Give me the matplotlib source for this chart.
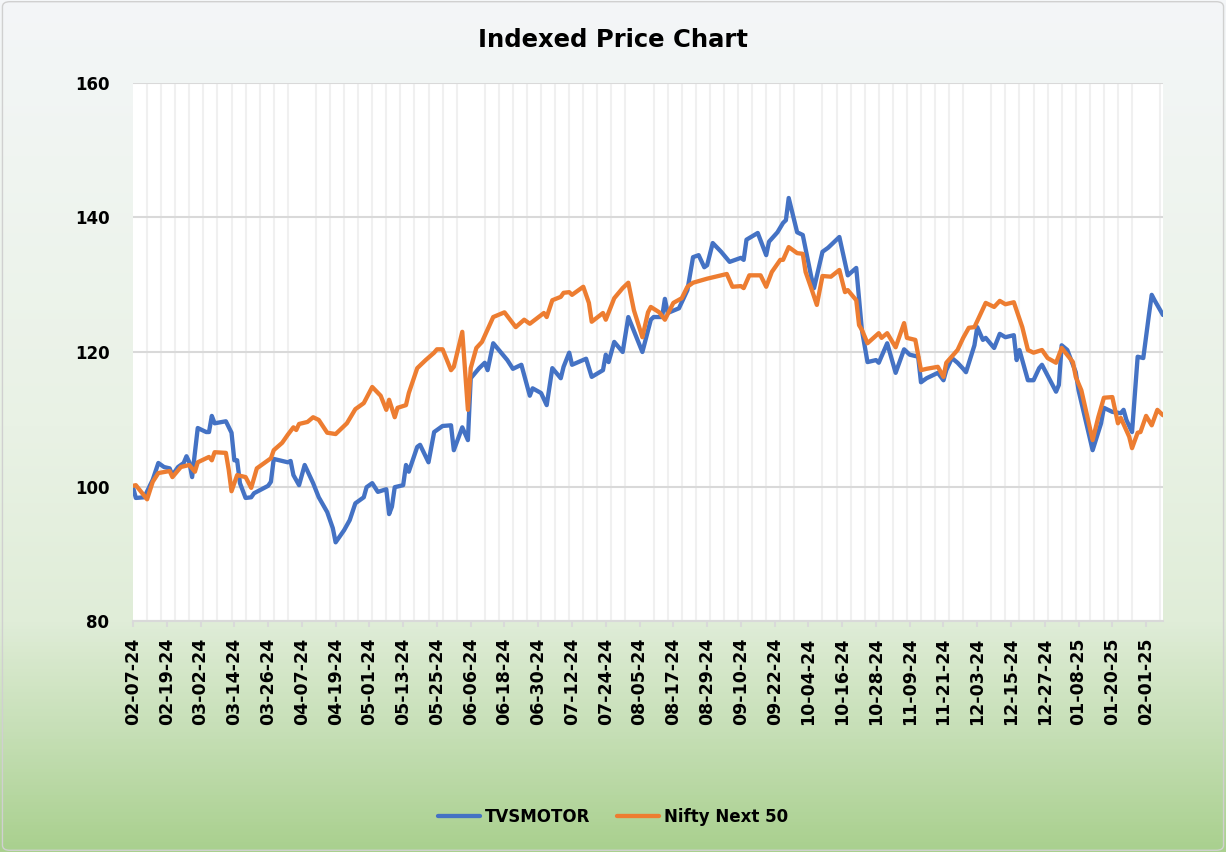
import numpy as np
import pandas as pd
import matplotlib
matplotlib.use("Agg")
import matplotlib.pyplot as plt
import matplotlib.dates as mdates
from matplotlib.colors import LinearSegmentedColormap
from matplotlib.patches import FancyBboxPatch

# Start date of the series (indexed to 100)
start = pd.Timestamp("2024-02-07")
end = pd.Timestamp("2025-02-07")

# TVSMOTOR - days since start and indexed price
tvs_days = [0, 1, 4, 7, 9, 11, 13, 14, 16, 18, 19, 20, 21, 23, 26, 27, 28, 29, 33, 35,
            36, 37, 38, 40, 42, 43, 48, 49, 50, 55, 56, 57, 59, 61, 63, 64, 66, 69, 71, 72,
            75, 77, 79, 82, 83, 85, 87, 90, 91, 92, 93, 96, 97, 98, 101, 102, 105, 107, 110, 113,
            114, 117, 119, 120, 123, 125, 126, 128, 130, 133, 135, 138, 141, 142, 145, 147, 149, 152, 153, 155,
            156, 161, 163, 167, 168, 169, 171, 174, 176, 181, 184, 185, 188, 189, 190, 194, 197, 199, 201, 203,
            204, 206, 209, 212, 216, 217, 218, 222, 225, 226, 229, 231, 232, 233, 236, 238, 241, 242, 245, 247,
            248, 251, 254, 257, 259, 261, 264, 265, 268, 271, 274, 276, 279, 280, 282, 286, 288, 289, 291, 293,
            295, 296, 299, 300, 302, 303, 306, 308, 310, 313, 314, 315, 318, 320, 322, 323, 328, 329, 330, 332,
            335, 336, 341, 344, 345, 348, 351, 352, 353, 355, 357, 359, 361, 362, 363, 366]
tvs_vals = [99.9, 98.3, 98.4, 101.0, 103.5, 102.9, 102.7, 101.7, 102.9, 103.5, 104.5, 103.6, 101.4, 108.7, 108.1, 108.1, 110.5, 109.4, 109.7, 108.0,
            103.9, 103.9, 100.5, 98.3, 98.4, 99.0, 100.1, 100.7, 104.1, 103.6, 103.8, 101.7, 100.2, 103.2, 101.4, 100.5, 98.4, 96.2, 93.8, 91.7,
            93.5, 95.0, 97.5, 98.4, 99.9, 100.5, 99.2, 99.6, 95.9, 97.0, 99.9, 100.2, 103.2, 102.2, 105.9, 106.2, 103.6, 108.1, 109.0, 109.1,
            105.4, 108.8, 106.9, 116.1, 117.6, 118.4, 117.3, 121.3, 120.3, 118.8, 117.5, 118.1, 113.5, 114.6, 113.9, 112.1, 117.6, 116.1, 117.8, 119.9,
            118.1, 119.0, 116.3, 117.3, 119.6, 118.5, 121.5, 120.0, 125.2, 120.0, 124.8, 125.2, 125.2, 127.9, 125.8, 126.5, 129.2, 134.1, 134.4, 132.6,
            132.9, 136.2, 134.9, 133.4, 134.0, 133.7, 136.7, 137.7, 134.4, 136.4, 137.8, 139.2, 139.6, 142.9, 137.8, 137.4, 131.2, 129.5, 134.9, 135.5,
            135.9, 137.1, 131.4, 132.5, 123.3, 118.5, 118.8, 118.4, 121.3, 116.9, 120.4, 119.6, 119.3, 115.5, 116.1, 116.9, 115.8, 117.3, 119.1, 118.4,
            117.5, 117.0, 121.0, 123.7, 121.8, 122.1, 120.6, 122.7, 122.2, 122.5, 118.8, 120.3, 115.8, 115.8, 117.6, 118.1, 114.1, 115.1, 121.0, 120.3,
            117.0, 114.3, 105.4, 109.4, 111.7, 111.1, 110.9, 111.4, 109.9, 108.1, 119.3, 119.1, 125.5, 128.5, 127.7, 125.5]

# Nifty Next 50
nn50_days = [0, 1, 5, 7, 9, 13, 14, 17, 20, 22, 23, 27, 28, 29, 33, 34, 35, 37, 40, 42,
             44, 49, 50, 53, 55, 57, 58, 59, 62, 64, 66, 69, 72, 76, 79, 82, 85, 88, 90, 91,
             93, 94, 97, 98, 101, 104, 107, 108, 110, 113, 114, 117, 119, 120, 122, 124, 128, 132, 134, 136,
             139, 141, 146, 147, 149, 152, 153, 155, 156, 160, 162, 163, 167, 168, 171, 174, 176, 178, 181, 183,
             184, 187, 189, 192, 195, 197, 199, 204, 209, 211, 213, 216, 217, 219, 223, 225, 227, 230, 231, 233,
             236, 238, 239, 241, 243, 245, 248, 251, 253, 254, 257, 258, 259, 261, 265, 266, 268, 271, 274, 275,
             278, 280, 282, 286, 288, 289, 293, 295, 297, 299, 301, 303, 306, 308, 310, 313, 316, 318, 320, 323,
             325, 328, 330, 334, 335, 337, 341, 343, 345, 348, 350, 351, 354, 355, 357, 358, 360, 362, 364, 366]
nn50_vals = [100.1, 100.2, 98.1, 100.7, 102.0, 102.3, 101.4, 102.9, 103.2, 102.2, 103.6, 104.4, 103.9, 105.1, 105.0, 102.5, 99.3, 101.7, 101.4, 99.8,
             102.7, 104.2, 105.4, 106.5, 107.7, 108.8, 108.4, 109.3, 109.6, 110.3, 109.9, 108.0, 107.8, 109.4, 111.5, 112.4, 114.8, 113.5, 111.4, 112.9,
             110.3, 111.7, 112.1, 113.9, 117.6, 118.8, 119.9, 120.4, 120.4, 117.3, 117.8, 123.0, 111.4, 117.6, 120.6, 121.5, 125.2, 125.9, 124.8, 123.7,
             124.8, 124.2, 125.8, 125.2, 127.7, 128.2, 128.8, 128.9, 128.5, 129.7, 127.3, 124.5, 125.8, 124.8, 128.0, 129.5, 130.3, 126.2, 122.2, 125.9,
             126.7, 125.9, 124.8, 127.3, 128.0, 129.7, 130.3, 130.9, 131.4, 131.6, 129.7, 129.8, 129.5, 131.4, 131.4, 129.7, 131.9, 133.7, 133.7, 135.6,
             134.7, 134.6, 131.9, 129.5, 127.0, 131.3, 131.2, 132.2, 128.9, 129.2, 127.7, 124.0, 123.3, 121.3, 122.8, 122.1, 122.8, 120.7, 124.3, 122.1,
             121.8, 117.3, 117.5, 117.8, 116.3, 118.4, 120.3, 122.1, 123.6, 123.7, 125.5, 127.3, 126.7, 127.6, 127.1, 127.4, 123.7, 120.3, 119.9, 120.3,
             119.1, 118.4, 120.6, 118.5, 116.3, 114.3, 106.9, 110.3, 113.2, 113.3, 109.4, 110.2, 107.4, 105.7, 108.0, 108.1, 110.5, 109.1, 111.4, 110.6]

y_ticks = [80, 100, 120, 140, 160]

tvs_dates = start + pd.to_timedelta(tvs_days, unit="D")
nn50_dates = start + pd.to_timedelta(nn50_days, unit="D")

plt.rcParams['font.family'] = ['DejaVu Sans']
plt.rcParams['font.weight'] = 'bold'

fig = plt.figure(figsize=(12.26, 8.52), dpi=100)

# Hintergrund mit Verlauf (weiss -> gruen)
bg = fig.add_axes([0, 0, 1, 1], zorder=-10)
grad_cmap = LinearSegmentedColormap.from_list("bg", [
    (0.0, (244/255, 246/255, 248/255)),
    (0.5, (233/255, 242/255, 229/255)),
    (0.73, (224/255, 237/255, 216/255)),
    (0.86, (198/255, 223/255, 182/255)),
    (1.0, (169/255, 208/255, 142/255)),
])
bg.imshow(np.linspace(0, 1, 256).reshape(-1, 1), aspect="auto", cmap=grad_cmap,
          extent=[0, 1, 0, 1], origin="upper")
bg.set_axis_off()
bg.add_patch(FancyBboxPatch((0.002, 0.002), 0.996, 0.996, boxstyle="round,pad=0,rounding_size=0.006",
                            transform=bg.transAxes, fill=False, edgecolor="#d0d0d0", linewidth=1.0))

ax = fig.add_axes([0.1085, 0.2711, 0.8401, 0.6315])
ax.set_facecolor("white")

ax.plot(tvs_dates, tvs_vals, color="#4472C4", linewidth=3.1, label="TVSMOTOR",
        solid_joinstyle="round", solid_capstyle="round", zorder=3)
ax.plot(nn50_dates, nn50_vals, color="#ED7D31", linewidth=3.1, label="Nifty Next 50",
        solid_joinstyle="round", solid_capstyle="round", zorder=3)

ax.set_xlim(start, end)
ax.set_ylim(80, 160)
ax.set_yticks(y_ticks)

# Achsenbeschriftung alle 12 Tage, Gitternetz alle 5 Tage
ax.set_xticks(pd.date_range(start, end, freq="12D"))
ax.set_xticks(pd.date_range(start + pd.Timedelta(days=5), end, freq="5D"), minor=True)
ax.xaxis.set_major_formatter(mdates.DateFormatter("%m-%d-%y"))

ax.grid(axis="x", which="minor", color="#f0f0f0", linewidth=1.5, zorder=0)
ax.grid(axis="y", which="major", color="#d9d9d9", linewidth=1.5, zorder=0)
ax.set_axisbelow(True)

for side in ["top", "right", "left"]:
    ax.spines[side].set_visible(False)
ax.spines["bottom"].set_color("#d9d9d9")
ax.spines["bottom"].set_linewidth(1.5)

ax.tick_params(axis="x", which="major", rotation=90, labelsize=12.5, length=4,
               width=1.5, color="#d9d9d9", pad=8)
ax.tick_params(axis="x", which="minor", length=0)
ax.tick_params(axis="y", length=0, labelsize=12, pad=17)
for lbl in ax.get_xticklabels() + ax.get_yticklabels():
    lbl.set_fontweight("bold")

fig.text(0.5, 0.953, "Indexed Price Chart", ha="center", va="center",
         fontsize=17.5, fontweight="bold")

leg = fig.legend(loc="center", bbox_to_anchor=(0.5, 0.041), ncol=2, frameon=False,
                 fontsize=12, handlelength=2.5, columnspacing=1.6, handletextpad=0.3)
for line in leg.get_lines():
    line.set_solid_capstyle("round")

fig.savefig("out.png", dpi=100)
